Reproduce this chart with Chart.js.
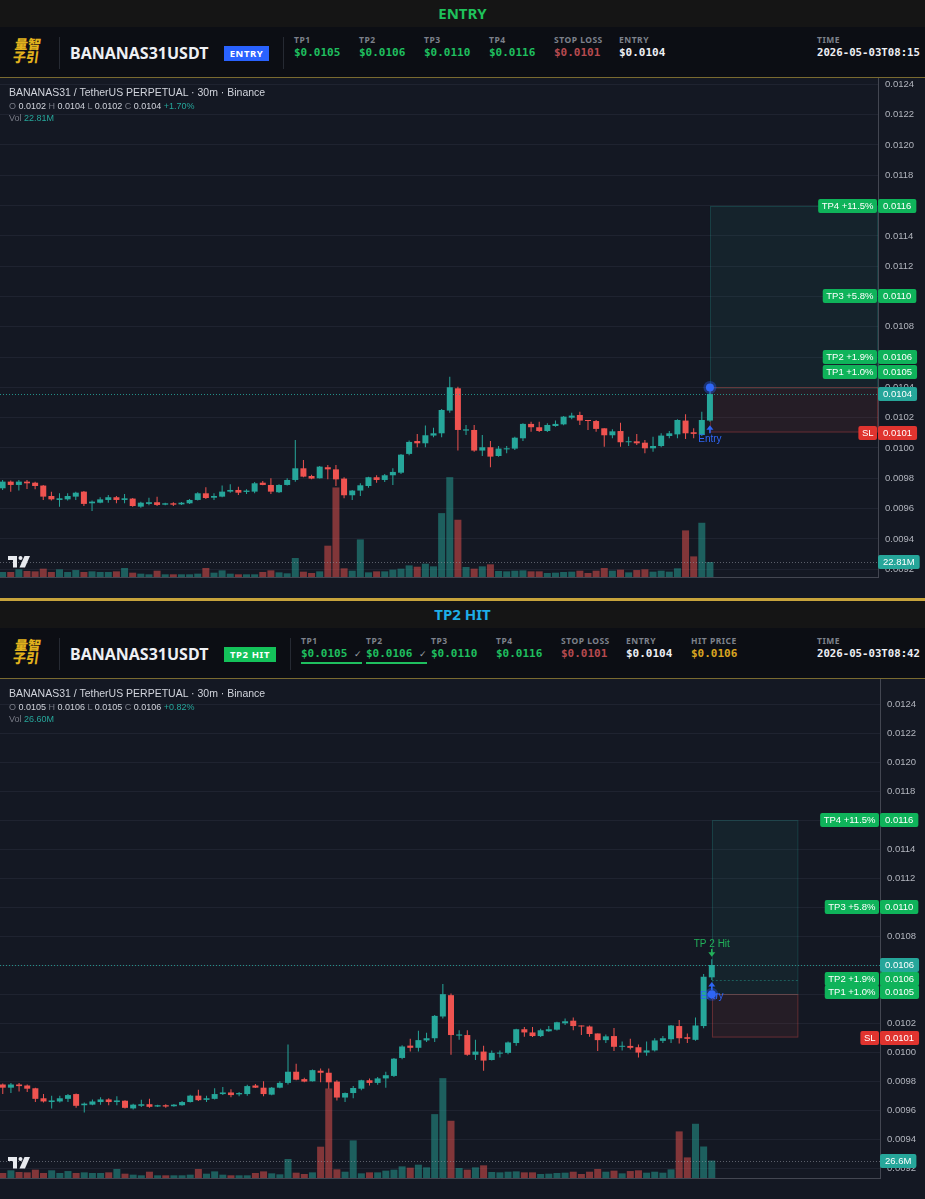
<!DOCTYPE html>
<html>
<head>
<meta charset="utf-8">
<script src="https://cdn.jsdelivr.net/npm/chart.js@4.4.1/dist/chart.umd.min.js"></script>
<style>
  * { box-sizing: border-box; }
  body { margin: 0; width: 925px; height: 1199px; overflow: hidden; position: relative; background: #141823; }
  .title { position: absolute; left: 0; width: 925px; height: 27px; background: #151515; text-align: center;
           font: bold 15px/27px 'Noto Sans', sans-serif; }
  .head { position: absolute; left: 0; width: 925px; height: 51px; background: #0c0e14; border-bottom: 1px solid #7a6a30; }
  .logo { position: absolute; left: 14px; top: 10px; font: 900 13px/13px 'Noto Sans CJK SC'; color: #e2b21d; transform: skewX(-8deg); }
  .vsep { position: absolute; top: 10px; width: 1px; height: 32px; background: #262a33; }
  .sym { position: absolute; left: 70px; top: 15px; font: bold 16px/22px 'Noto Sans', sans-serif; color: #eef0f4; }
  .badge { position: absolute; left: 224px; top: 19px; height: 15px; color: #fff; text-align: center;
           font: bold 9.5px/15px 'Noto Sans', sans-serif; letter-spacing: .6px; }
  .col { position: absolute; top: 8px; white-space: nowrap; }
  .lab { font: bold 8.5px/10px 'Noto Sans', sans-serif; color: #7d818b; letter-spacing: .5px; }
  .val { font: bold 11px/14px 'DejaVu Sans Mono', monospace; margin-top: 1px; }
  .tm { font-size: 10.7px; }
  .hit { border-bottom: 2px solid #1fbf5f; padding-bottom: 1px; }
  .chk { font: 9px 'DejaVu Sans', sans-serif; color: #9aa0a8; }
  .g { color: #1fbf5f; } .r { color: #b64a4f; } .w { color: #eef0f4; } .y { color: #d9a521; }
  .panel { position: absolute; left: 0; width: 925px; height: 520px; }
  .panel canvas { position: absolute; left: 0; top: 0; }
  .lg { position: absolute; left: 9px; white-space: nowrap; font-family: 'Liberation Sans', sans-serif; color: #d1d4dc; }
  .lg .k { color: #787b86; } .lg .t { color: #26a69a; }
  .gold { position: absolute; left: 0; width: 925px; height: 3px; background: #c8a43c; }
</style>
</head>
<body>

<div class="title" style="top:0;color:#1fc25b">ENTRY</div>
<div class="head" style="top:27px">
  <div class="logo">量智<br>子引</div>
  <div class="vsep" style="left:59px"></div>
  <div class="sym">BANANAS31USDT</div>
  <div class="badge" style="width:45px;background:#2962ff">ENTRY</div>
  <div class="vsep" style="left:283px"></div>
  <div class="col" style="left:294px"><div class="lab">TP1</div><div class="val g">$0.0105</div></div>
  <div class="col" style="left:359px"><div class="lab">TP2</div><div class="val g">$0.0106</div></div>
  <div class="col" style="left:424px"><div class="lab">TP3</div><div class="val g">$0.0110</div></div>
  <div class="col" style="left:489px"><div class="lab">TP4</div><div class="val g">$0.0116</div></div>
  <div class="col" style="left:554px"><div class="lab">STOP LOSS</div><div class="val r">$0.0101</div></div>
  <div class="col" style="left:619px"><div class="lab">ENTRY</div><div class="val w">$0.0104</div></div>
  <div class="col" style="left:817px"><div class="lab">TIME</div><div class="val w tm">2026-05-03T08:15</div></div>
</div>
<div class="panel" style="top:78px">
  <canvas id="chartEntry" width="925" height="520"></canvas>
  <div class="lg" style="top:8px;font-size:10.5px;line-height:13px">BANANAS31 / TetherUS PERPETUAL · 30m · Binance</div>
  <div class="lg" style="top:22px;font-size:9px;line-height:12px"><span class="k">O</span> 0.0102 <span class="k">H</span> 0.0104 <span class="k">L</span> 0.0102 <span class="k">C</span> 0.0104 <span class="t">+1.70%</span></div>
  <div class="lg" style="top:34px;font-size:9px;line-height:12px"><span class="k">Vol</span> <span class="t">22.81M</span></div>
</div>

<div class="gold" style="top:598px"></div>

<div class="title" style="top:601px;color:#1eaee8">TP2 HIT</div>
<div class="head" style="top:628px">
  <div class="logo">量智<br>子引</div>
  <div class="vsep" style="left:59px"></div>
  <div class="sym">BANANAS31USDT</div>
  <div class="badge" style="width:52px;background:#14c25a">TP2 HIT</div>
  <div class="vsep" style="left:290px"></div>
  <div class="col" style="left:301px"><div class="lab">TP1</div><div class="val g hit">$0.0105 <span class="chk">✓</span></div></div>
  <div class="col" style="left:366px"><div class="lab">TP2</div><div class="val g hit">$0.0106 <span class="chk">✓</span></div></div>
  <div class="col" style="left:431px"><div class="lab">TP3</div><div class="val g">$0.0110</div></div>
  <div class="col" style="left:496px"><div class="lab">TP4</div><div class="val g">$0.0116</div></div>
  <div class="col" style="left:561px"><div class="lab">STOP LOSS</div><div class="val r">$0.0101</div></div>
  <div class="col" style="left:626px"><div class="lab">ENTRY</div><div class="val w">$0.0104</div></div>
  <div class="col" style="left:691px"><div class="lab">HIT PRICE</div><div class="val y">$0.0106</div></div>
  <div class="col" style="left:817px"><div class="lab">TIME</div><div class="val w tm">2026-05-03T08:42</div></div>
</div>
<div class="panel" style="top:679px">
  <canvas id="chartHit" width="925" height="520"></canvas>
  <div class="lg" style="top:8px;font-size:10.5px;line-height:13px">BANANAS31 / TetherUS PERPETUAL · 30m · Binance</div>
  <div class="lg" style="top:22px;font-size:9px;line-height:12px"><span class="k">O</span> 0.0105 <span class="k">H</span> 0.0106 <span class="k">L</span> 0.0105 <span class="k">C</span> 0.0106 <span class="t">+0.82%</span></div>
  <div class="lg" style="top:34px;font-size:9px;line-height:12px"><span class="k">Vol</span> <span class="t">26.60M</span></div>
</div>

<script>
// bar number = half hours since day 1 00:00, first bar is 12:30 on day 1
const START_BAR = 25;

// shared 30m candles, bars 25..111
const opens = [
  0.009734, 0.009778, 0.009756, 0.009778, 0.009771, 0.009752, 0.009683, 0.009657, 0.009661, 0.009679,
  0.009712, 0.009635, 0.009639, 0.009657, 0.009675, 0.009657, 0.009666, 0.009613, 0.009631, 0.009642,
  0.009626, 0.009635, 0.009628, 0.009635, 0.009657, 0.009701, 0.009672, 0.009679, 0.009712, 0.009723,
  0.009710, 0.009712, 0.009771, 0.009756, 0.009708, 0.009756, 0.009789, 0.009866, 0.009815, 0.009800,
  0.009873, 0.009859, 0.009798, 0.009688, 0.009719, 0.009749, 0.009807, 0.009789, 0.009820, 0.009837,
  0.009961, 0.010046, 0.010031, 0.010082, 0.010097, 0.010247, 0.010394, 0.010115, 0.010119, 0.009983,
  0.010005, 0.009947, 0.009991, 0.009996, 0.010064, 0.010159, 0.010137, 0.010112, 0.010145, 0.010156,
  0.010200, 0.010218, 0.010185, 0.010178, 0.010130, 0.010084, 0.010112, 0.010038, 0.010044, 0.010035,
  0.009998, 0.010013, 0.010079, 0.010090, 0.010181, 0.010104, 0.010086
];
const highs = [
  0.009789, 0.009785, 0.009789, 0.009789, 0.009778, 0.009756, 0.009712, 0.009701, 0.009701, 0.009712,
  0.009716, 0.009653, 0.009675, 0.009690, 0.009683, 0.009697, 0.009670, 0.009646, 0.009672, 0.009679,
  0.009639, 0.009642, 0.009644, 0.009664, 0.009708, 0.009741, 0.009701, 0.009752, 0.009760, 0.009745,
  0.009727, 0.009776, 0.009782, 0.009800, 0.009760, 0.009800, 0.010053, 0.009921, 0.009824, 0.009881,
  0.009888, 0.009888, 0.009807, 0.009723, 0.009767, 0.009811, 0.009820, 0.009829, 0.009866, 0.009961,
  0.010049, 0.010093, 0.010148, 0.010134, 0.010258, 0.010471, 0.010405, 0.010152, 0.010152, 0.010086,
  0.010046, 0.010013, 0.010013, 0.010075, 0.010163, 0.010174, 0.010174, 0.010163, 0.010181, 0.010211,
  0.010233, 0.010240, 0.010185, 0.010185, 0.010130, 0.010123, 0.010167, 0.010075, 0.010093, 0.010053,
  0.010075, 0.010097, 0.010112, 0.010189, 0.010222, 0.010130, 0.010240
];
const lows = [
  0.009723, 0.009712, 0.009719, 0.009730, 0.009727, 0.009657, 0.009653, 0.009613, 0.009653, 0.009657,
  0.009617, 0.009584, 0.009635, 0.009639, 0.009635, 0.009635, 0.009613, 0.009606, 0.009622, 0.009617,
  0.009622, 0.009617, 0.009624, 0.009631, 0.009653, 0.009664, 0.009657, 0.009675, 0.009705, 0.009690,
  0.009697, 0.009701, 0.009754, 0.009697, 0.009703, 0.009752, 0.009778, 0.009807, 0.009793, 0.009798,
  0.009793, 0.009749, 0.009668, 0.009657, 0.009683, 0.009738, 0.009771, 0.009776, 0.009756, 0.009829,
  0.009952, 0.010005, 0.010005, 0.010071, 0.010071, 0.010233, 0.009983, 0.010086, 0.009976, 0.009947,
  0.009873, 0.009943, 0.009965, 0.009987, 0.010046, 0.010108, 0.010106, 0.010106, 0.010141, 0.010150,
  0.010189, 0.010152, 0.010119, 0.010108, 0.010009, 0.010064, 0.010009, 0.010013, 0.010020, 0.009965,
  0.009976, 0.010005, 0.010064, 0.010064, 0.010060, 0.010064, 0.010079
];
const closes = [
  0.009778, 0.009756, 0.009778, 0.009767, 0.009749, 0.009679, 0.009661, 0.009668, 0.009683, 0.009705,
  0.009631, 0.009646, 0.009661, 0.009675, 0.009657, 0.009668, 0.009617, 0.009639, 0.009642, 0.009624,
  0.009635, 0.009626, 0.009639, 0.009657, 0.009701, 0.009670, 0.009683, 0.009712, 0.009723, 0.009705,
  0.009719, 0.009767, 0.009756, 0.009712, 0.009756, 0.009789, 0.009866, 0.009811, 0.009798, 0.009877,
  0.009859, 0.009793, 0.009688, 0.009719, 0.009754, 0.009807, 0.009789, 0.009820, 0.009842, 0.009956,
  0.010040, 0.010031, 0.010084, 0.010097, 0.010251, 0.010401, 0.010119, 0.010123, 0.009983, 0.010005,
  0.009943, 0.009996, 0.009998, 0.010068, 0.010159, 0.010137, 0.010112, 0.010152, 0.010159, 0.010207,
  0.010214, 0.010181, 0.010178, 0.010126, 0.010084, 0.010110, 0.010038, 0.010044, 0.010031, 0.009998,
  0.010013, 0.010082, 0.010097, 0.010185, 0.010097, 0.010093, 0.010185
];
// volume in millions
const volumes = [
  7.6, 7.6, 11.7, 9.1, 8.6, 12.7, 7.6, 11.7, 7.6, 10.6,
  7.6, 8.6, 7.6, 7.6, 8.6, 13.7, 6.6, 5.1, 4.1, 9.6,
  4.1, 4.1, 4.1, 4.1, 5.1, 13.7, 6.6, 10.1, 5.1, 4.1,
  4.1, 4.1, 7.6, 10.1, 7.1, 5.6, 28.9, 8.1, 6.1, 8.6,
  47.7, 136.4, 13.2, 9.6, 57.3, 7.1, 8.6, 8.6, 11.2, 12.7,
  17.7, 15.7, 20.3, 16.2, 97.3, 152.1, 87.2, 15.2, 12.7, 16.2,
  19.3, 9.1, 8.6, 9.6, 10.1, 8.6, 8.6, 6.1, 6.6, 7.6,
  8.1, 9.6, 6.1, 9.6, 13.7, 9.6, 11.2, 7.1, 10.6, 11.7,
  8.1, 9.6, 8.1, 13.2, 71.0, 31.4, 82.6
];

// last bar at the entry signal (08:15)
const entryOpens = [0.010181];
const entryHighs = [0.010405];
const entryLows = [0.010174];
const entryCloses = [0.010357];
const entryVolumes = [22.81];

// last bars at the TP2 hit (08:42)
const hitOpens = [0.010181, 0.010517];
const hitHighs = [0.010540, 0.010641];
const hitLows = [0.010166, 0.010499];
const hitCloses = [0.010521, 0.010602];
const hitVolumes = [48.0, 26.6];

const tpLevels = [0.0105, 0.0106, 0.0110, 0.0116];
const tpNames = ['TP1 +1.0%', 'TP2 +1.9%', 'TP3 +5.8%', 'TP4 +11.5%'];
const entryPrice = 0.0104;
const stopLoss = 0.0101;

const UP = '#26a69a', DOWN = '#ef5350';
const VOL_UP = 'rgba(38,166,154,0.5)', VOL_DOWN = 'rgba(239,83,80,0.5)';
const GRID = '#1f2330', AXIS = '#434651', TEXT = '#b2b5be';
const TP_GREEN = '#0fb35a', SL_RED = '#e0342f';

function tickLabel(v) {
  const slot = v % 48;
  if (slot === 0) return String(v / 48 + 1);
  const h = slot / 2;
  return (h < 10 ? '0' : '') + h + ':00';
}

function arrow(ctx, x, tip, dir, color) {
  // dir 1: points up, shaft below the tip; dir -1: points down
  ctx.fillStyle = color;
  ctx.strokeStyle = color;
  ctx.lineWidth = 1.6;
  ctx.beginPath();
  ctx.moveTo(x, tip + dir * 3);
  ctx.lineTo(x, tip + dir * 8);
  ctx.stroke();
  ctx.beginPath();
  ctx.moveTo(x, tip);
  ctx.lineTo(x - 3.5, tip + dir * 4.5);
  ctx.lineTo(x + 3.5, tip + dir * 4.5);
  ctx.closePath();
  ctx.fill();
}

function tvLogo(ctx, x, y) {
  ctx.fillStyle = '#e8eaef';
  ctx.fillRect(x, y, 9, 4);
  ctx.fillRect(x + 5, y, 4, 11.5);
  ctx.beginPath();
  ctx.arc(x + 12.5, y + 2, 2, 0, Math.PI * 2);
  ctx.fill();
  ctx.beginPath();
  ctx.moveTo(x + 16.5, y);
  ctx.lineTo(x + 22, y);
  ctx.lineTo(x + 17, y + 11.5);
  ctx.lineTo(x + 11.5, y + 11.5);
  ctx.closePath();
  ctx.fill();
}

function tag(ctx, left, yc, w, text, bg) {
  ctx.fillStyle = bg;
  ctx.beginPath();
  ctx.roundRect(left, Math.round(yc) - 7, w, 14, 2);
  ctx.fill();
  ctx.fillStyle = '#ffffff';
  ctx.fillText(text, left + w / 2, Math.round(yc) + 0.5);
}

function overlay(cfg) {
  return {
    id: 'tvOverlay',
    beforeDatasetsDraw(chart) {
      const { ctx, chartArea: a, scales: { x, y } } = chart;
      const x0 = x.getPixelForValue(cfg.boxFrom);
      const x1 = cfg.boxTo === null ? a.right : x.getPixelForValue(cfg.boxTo);
      const yT = y.getPixelForValue(tpLevels[3]);
      const yE = y.getPixelForValue(entryPrice);
      const yS = y.getPixelForValue(stopLoss);
      ctx.save();
      ctx.fillStyle = 'rgba(38,166,154,0.08)';
      ctx.fillRect(x0, yT, x1 - x0, yE - yT);
      ctx.fillStyle = 'rgba(239,83,80,0.08)';
      ctx.fillRect(x0, yE, x1 - x0, yS - yE);
      ctx.lineWidth = 1;
      ctx.strokeStyle = 'rgba(38,166,154,0.22)';
      ctx.strokeRect(Math.round(x0) + 0.5, Math.round(yT) + 0.5, x1 - x0 - 1, yE - yT);
      ctx.strokeStyle = 'rgba(239,83,80,0.3)';
      ctx.strokeRect(Math.round(x0) + 0.5, Math.round(yE) + 0.5, x1 - x0 - 1, yS - yE - 1);
      // reached targets
      ctx.setLineDash([2, 2]);
      ctx.strokeStyle = 'rgba(38,166,154,0.45)';
      cfg.hitTps.forEach(p => {
        const yy = Math.round(y.getPixelForValue(p)) + 0.5;
        ctx.beginPath();
        ctx.moveTo(x0, yy);
        ctx.lineTo(x1, yy);
        ctx.stroke();
      });
      ctx.restore();
    },
    afterDatasetsDraw(chart) {
      const { ctx, chartArea: a, scales: { x, y, yv } } = chart;
      const n = cfg.c.length - 1;
      ctx.save();
      ctx.lineWidth = 1;
      ctx.setLineDash([1, 2]);
      let yy = Math.round(y.getPixelForValue(cfg.c[n])) + 0.5;
      ctx.strokeStyle = 'rgba(38,166,154,0.85)';
      ctx.beginPath(); ctx.moveTo(a.left, yy); ctx.lineTo(a.right, yy); ctx.stroke();
      yy = Math.round(yv.getPixelForValue(cfg.v[n])) + 0.5;
      ctx.strokeStyle = 'rgba(150,154,165,0.55)';
      ctx.beginPath(); ctx.moveTo(a.left, yy); ctx.lineTo(a.right, yy); ctx.stroke();
      ctx.setLineDash([]);

      ctx.font = '10px "Liberation Sans", sans-serif';
      ctx.textAlign = 'center';
      ctx.textBaseline = 'middle';
      // entry marker
      const k = cfg.entryBar - START_BAR;
      const ex = x.getPixelForValue(cfg.entryBar);
      const yLow = y.getPixelForValue(cfg.l[k]);
      const yEntry = y.getPixelForValue(entryPrice);
      ctx.fillStyle = 'rgba(41,98,255,0.35)';
      ctx.beginPath(); ctx.arc(ex, yEntry, 6.5, 0, Math.PI * 2); ctx.fill();
      ctx.fillStyle = '#2f66f5';
      ctx.beginPath(); ctx.arc(ex, yEntry, 4, 0, Math.PI * 2); ctx.fill();
      arrow(ctx, ex, yLow + cfg.arrowGap, 1, '#2f66f5');
      ctx.fillStyle = '#2f66f5';
      ctx.fillText('Entry', ex, yLow + cfg.textGap);
      // target hit marker
      if (cfg.hitBar !== null) {
        const hk = cfg.hitBar - START_BAR;
        const hx = x.getPixelForValue(cfg.hitBar);
        const yHigh = y.getPixelForValue(cfg.h[hk]);
        arrow(ctx, hx, yHigh - 2.5, -1, '#22b15a');
        ctx.fillStyle = '#22b15a';
        ctx.fillText('TP 2 Hit', hx, yHigh - 15);
      }
      tvLogo(ctx, a.left + 8, a.bottom - 21);
      ctx.restore();
    },
    afterDraw(chart) {
      const { ctx, chartArea: a, scales: { y, yv } } = chart;
      const n = cfg.c.length - 1;
      ctx.save();
      ctx.font = '9.5px "Liberation Sans", sans-serif';
      ctx.textAlign = 'center';
      ctx.textBaseline = 'middle';
      const items = [{ p: cfg.c[n], cur: true }];
      tpLevels.forEach((p, i) => items.push({ p, name: tpNames[i], col: TP_GREEN }));
      items.push({ p: stopLoss, name: 'SL', col: SL_RED });
      items.forEach(it => { it.y = y.getPixelForValue(it.p); });
      items.sort((m, q) => (m.y - q.y) || ((q.cur ? 1 : 0) - (m.cur ? 1 : 0)));
      for (let i = 1; i < items.length; i++) {
        if (items[i].y < items[i - 1].y + 13.5) items[i].y = items[i - 1].y + 13.5;
      }
      items.forEach(it => {
        const txt = it.p.toFixed(4);
        tag(ctx, a.right, it.y, ctx.measureText(txt).width + 10, txt, it.cur ? UP : it.col);
        if (!it.cur) {
          const w = ctx.measureText(it.name).width + 7;
          tag(ctx, a.right - 1 - w, it.y, w, it.name, it.col);
        }
      });
      const vt = cfg.volText;
      tag(ctx, a.right, yv.getPixelForValue(cfg.v[n]), ctx.measureText(vt).width + 10, vt, UP);
      ctx.restore();
    }
  };
}

function makeChart(id, cfg) {
  const bars = cfg.o.map((_, i) => START_BAR + i);
  const up = cfg.o.map((o, i) => cfg.c[i] >= o);
  new Chart(document.getElementById(id), {
    type: 'bar',
    data: {
      datasets: [
        {
          label: 'Volume', yAxisID: 'yv', order: 3, barThickness: 7,
          data: bars.map((b, i) => ({ x: b, y: cfg.v[i] })),
          backgroundColor: up.map(u => u ? VOL_UP : VOL_DOWN)
        },
        {
          label: 'Wick', yAxisID: 'y', order: 2, barThickness: 1,
          data: bars.map((b, i) => ({ x: b, y: [cfg.l[i], cfg.h[i]] })),
          backgroundColor: up.map(u => u ? UP : DOWN)
        },
        {
          label: 'Body', yAxisID: 'y', order: 1, barThickness: 6, minBarLength: 1,
          data: bars.map((b, i) => ({ x: b, y: [cfg.o[i], cfg.c[i]] })),
          backgroundColor: up.map(u => u ? UP : DOWN)
        }
      ]
    },
    options: {
      responsive: false,
      animation: false,
      devicePixelRatio: 1,
      layout: { padding: 0 },
      datasets: { bar: { grouped: false, borderWidth: 0, inflateAmount: 0 } },
      plugins: { legend: { display: false }, tooltip: { enabled: false } },
      scales: {
        x: {
          type: 'linear', min: cfg.xMin, max: cfg.xMax, offset: false,
          grid: { color: GRID, drawTicks: false, offset: false },
          border: { color: AXIS },
          afterBuildTicks: s => { s.ticks = s.ticks.filter(t => t.value % 12 === 0 && t.value <= 108); },
          afterFit: s => { s.height = 21; s.paddingLeft = 0; s.paddingRight = 0; },
          ticks: {
            stepSize: 12, maxTicksLimit: 30, includeBounds: false, autoSkip: false, maxRotation: 0, padding: 5, color: TEXT,
            font: c => ({ family: 'Liberation Sans', size: 9.5, weight: c.tick && c.tick.value % 48 === 0 ? 'bold' : 'normal' }),
            callback: v => tickLabel(v)
          }
        },
        y: {
          position: 'right', min: cfg.yMin, max: cfg.yMax,
          grid: { color: GRID, drawTicks: false },
          border: { color: AXIS },
          afterBuildTicks: s => {
            s.ticks = s.ticks.filter(t => Math.abs(t.value / 0.0002 - Math.round(t.value / 0.0002)) < 1e-6);
          },
          afterFit: s => { s.width = cfg.axisW; s.paddingTop = 0; s.paddingBottom = 0; },
          ticks: {
            stepSize: 0.0002, maxTicksLimit: 40, includeBounds: false, autoSkip: false, padding: 7, color: TEXT,
            font: { family: 'Liberation Sans', size: 9.5 },
            callback: v => v.toFixed(4)
          }
        },
        yv: { display: false, min: 0, max: 760 }
      }
    },
    plugins: [overlay(cfg)]
  });
}

makeChart('chartEntry', {
  o: opens.concat(entryOpens), h: highs.concat(entryHighs), l: lows.concat(entryLows),
  c: closes.concat(entryCloses), v: volumes.concat(entryVolumes),
  xMin: 24.68, xMax: 132.67, yMin: 0.0091485, yMax: 0.0124422, axisW: 47,
  boxFrom: 112, boxTo: null, hitTps: [], entryBar: 112, hitBar: null,
  arrowGap: 3.5, textGap: 18, volText: '22.81M'
});

makeChart('chartHit', {
  o: opens.concat(hitOpens), h: highs.concat(hitHighs), l: lows.concat(hitLows),
  c: closes.concat(hitCloses), v: volumes.concat(hitVolumes),
  xMin: 25.66, xMax: 133.64, yMin: 0.0091331, yMax: 0.0125745, axisW: 45,
  boxFrom: 113, boxTo: 123.6, hitTps: [0.0105], entryBar: 113, hitBar: 113,
  arrowGap: 2, textGap: 16.5, volText: '26.6M'
});
</script>
</body>
</html>
